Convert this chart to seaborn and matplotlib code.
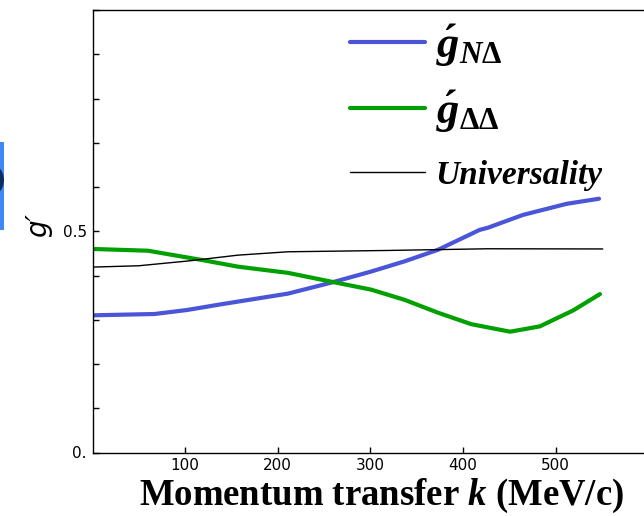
import numpy as np
import pandas as pd
import matplotlib
matplotlib.use("Agg")
import matplotlib.pyplot as plt
import seaborn as sns
from matplotlib.patches import Rectangle, Ellipse

# g' as a function of the momentum transfer k (MeV/c)
k_nd = [0, 67, 102, 139, 175, 211, 258, 301, 337, 373, 418, 427, 465, 512, 547]
g_nd = [0.310, 0.313, 0.322, 0.335, 0.347, 0.359, 0.384, 0.409, 0.432, 0.458,
        0.503, 0.508, 0.537, 0.562, 0.5735]

k_dd = [0, 60, 85, 121, 157, 211, 258, 301, 337, 373, 409, 451, 483, 519, 548]
g_dd = [0.460, 0.456, 0.447, 0.434, 0.420, 0.406, 0.386, 0.368, 0.345, 0.316,
        0.290, 0.273, 0.285, 0.321, 0.358]

k_univ = [0, 50, 104, 157, 211, 319, 427, 551]
g_univ = [0.419, 0.422, 0.433, 0.446, 0.4536, 0.4566, 0.4604, 0.460]

x_ticks = [100, 200, 300, 400, 500]
y_ticks = [0.0, 0.1, 0.2, 0.3, 0.4, 0.5, 0.6, 0.7, 0.8, 0.9, 1.0]
y_ticklabels = ["0.", "", "", "", "", "0.5", "", "", "", "", ""]

sns.set_style("ticks")
plt.rcParams.update({
    "text.color": "black",
    "axes.labelcolor": "black",
    "xtick.color": "black",
    "ytick.color": "black",
    "mathtext.fontset": "custom",
    "mathtext.it": "Liberation Serif:bold:italic",
    "mathtext.rm": "Liberation Serif:bold",
    "mathtext.bf": "Liberation Serif:bold",
})

W, H = 644, 516
fig = plt.figure(figsize=(W / 100, H / 100), dpi=100)
fig.patch.set_facecolor("white")

x0, y_bot, y_top = 92.5, 452.5, 10.0
px_per_k = 0.926
ax = fig.add_axes([x0 / W, (H - y_bot) / H, 600 * px_per_k / W, (y_bot - y_top) / H])

blue = "#4a55d8"
green = "#00a000"

sns.lineplot(x=k_nd, y=g_nd, ax=ax, color=blue, lw=3.0, label=r"$\acute{g}_{N\Delta}$")
sns.lineplot(x=k_dd, y=g_dd, ax=ax, color=green, lw=3.0, label=r"$\acute{g}_{\Delta\Delta}$")
sns.lineplot(x=k_univ, y=g_univ, ax=ax, color="black", lw=1.0, label="Universality")

ax.set_xlim(0, 600)
ax.set_ylim(0, 1.0)
ax.set_xticks(x_ticks)
ax.set_xticklabels([str(t) for t in x_ticks], fontsize=11, family="DejaVu Sans")
ax.set_yticks(y_ticks)
ax.set_yticklabels(y_ticklabels, fontsize=11, family="DejaVu Sans")
ax.tick_params(direction="in", length=4, width=1, color="black", pad=4)
for s in ax.spines.values():
    s.set_color("black")
    s.set_linewidth(1.0)

ax.set_ylabel("g\u2032", fontsize=20, style="italic", family="DejaVu Sans")
ax.yaxis.set_label_coords((52 - x0) / (600 * px_per_k), (y_bot - 225) / (y_bot - y_top))
ax.set_xlabel(r"Momentum transfer $k$ (MeV/c)", fontsize=26.5,
              family="Liberation Serif", weight="bold")
ax.xaxis.set_label_coords((381.5 - x0) / (600 * px_per_k), (y_bot - 477) / (y_bot - y_top))

# legend: the two g' entries, then the universality line below them
handles, labels = ax.get_legend_handles_labels()
serif_bi = {"family": "Liberation Serif", "weight": "bold", "style": "italic"}
fs1 = 32
leg1 = ax.legend(handles[:2], labels[:2], loc="upper left",
                 bbox_to_anchor=(350 / W, (H - 23) / H), bbox_transform=fig.transFigure,
                 frameon=False, handlelength=75 / (fs1 * 100 / 72), handletextpad=0.25,
                 labelspacing=0.44, borderpad=0, borderaxespad=0,
                 prop=dict(serif_bi, size=fs1))
ax.add_artist(leg1)
leg2 = ax.legend(handles[2:], labels[2:], loc="upper left",
                 bbox_to_anchor=(350 / W, (H - 160) / H), bbox_transform=fig.transFigure,
                 frameon=False, handlelength=75 / 33.3, handletextpad=0.3,
                 borderpad=0, borderaxespad=0,
                 prop=dict(serif_bi, size=24))

# blue tab with dark disc at the left edge
fig.patches.append(Rectangle((0, (H - 230) / H), 4 / W, 88 / H, transform=fig.transFigure,
                             facecolor="#3f87f5", edgecolor="none"))
fig.patches.append(Ellipse((-14 / W, (H - 180) / H), 36 / W, 36 / H,
                           transform=fig.transFigure, facecolor="#0d2f5e",
                           edgecolor="none"))

fig.savefig("out.png", dpi=100, facecolor="white")
